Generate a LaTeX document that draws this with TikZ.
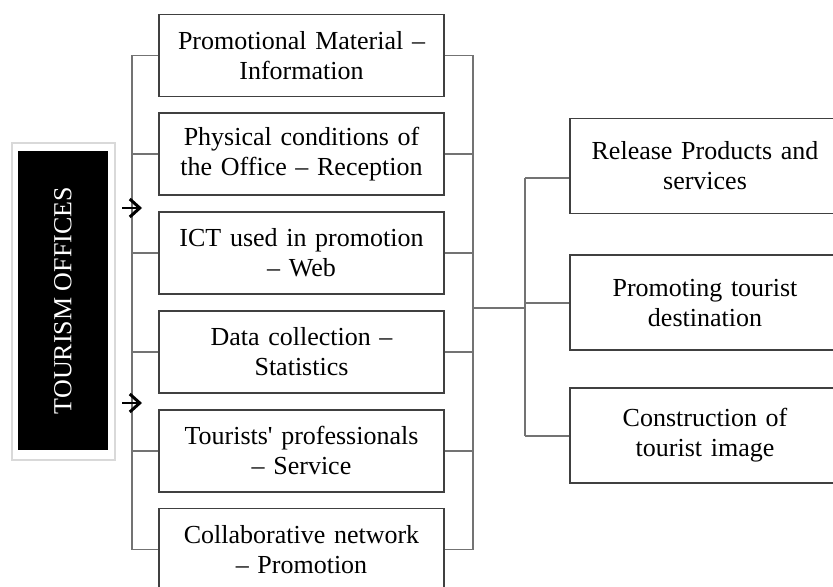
\documentclass[tikz,border=0pt]{standalone}
\usepackage{fontspec}
\setmainfont{Liberation Serif}
\usetikzlibrary{positioning,arrows.meta}

\begin{document}
\begin{tikzpicture}[
    x=0.5pt, y=-0.5pt,
    node distance=7.5pt,
    block/.style={rectangle, draw=black!75, line width=0.9pt, text width=135pt, align=center, minimum width=142.5pt, minimum height=41pt, inner sep=1pt, font=\fontsize{13}{15}\selectfont},
    outcome/.style={block, text width=125pt, minimum width=135pt, minimum height=47.5pt},
    link/.style={draw=black!55, line width=0.9pt},
    arrow/.style={-{Straight Barb[length=5pt,width=9pt,line width=1.5pt]}, line width=1.3pt}
]
\useasboundingbox (0,0) rectangle (833,587);

% Tourism offices
\node[draw=black!15, line width=1.4pt, minimum width=51.5pt, minimum height=158.5pt] (frame) at (63.5,301.5) {};
\node[fill=black, text=white, rotate=90, minimum width=149.5pt, minimum height=45pt, font=\fontsize{13}{15}\selectfont] (offices) at (63,300.5) {TOURISM OFFICES};

% Fields
\node[block] (material) at (301.5,55.5) {Promotional Material –\\Information};
\node[block, below=of material] (reception) {Physical conditions of\\the Office – Reception};
\node[block, below=of reception] (ict) {ICT used in promotion\\– Web};
\node[block, below=of ict] (statistics) {Data collection –\\Statistics};
\node[block, below=of statistics] (service) {Tourists\textquotesingle{} professionals\\– Service};
\node[block, below=of service] (network) {Collaborative network\\– Promotion};

% Outcomes
\node[outcome] (products) at (705,166) {Release Products and\\services\\[6pt]};
\node[outcome, below=20pt of products] (destination) {Promoting tourist\\destination};
\node[outcome, below=18pt of destination] (image) {Construction of\\tourist image};

% Buses
\coordinate (lbus) at (132,0);
\coordinate (rbus) at (473,0);
\coordinate (hub) at (525,308);
\coordinate (feed1) at (122,208);
\coordinate (tip1) at (142,208);
\coordinate (feed2) at (122,403);
\coordinate (tip2) at (142,403);

\draw[link] (material.west) -- (material.west -| lbus) -- (network.west -| lbus) -- (network.west);
\draw[link] (material.east) -- (material.east -| rbus) -- (network.east -| rbus) -- (network.east);
\foreach \n in {reception,ict,statistics,service} {
  \draw[link] (\n.west) -- (\n.west -| lbus);
  \draw[link] (\n.east) -- (\n.east -| rbus);
}
\draw[link] (hub -| rbus) -- (hub);
\draw[link] ([yshift=-6pt]products.west -| hub) -- (image.west -| hub);
\draw[link] ([yshift=-6pt]products.west -| hub) -- ([yshift=-6pt]products.west);
\foreach \n in {destination,image}
  \draw[link] (\n.west -| hub) -- (\n.west);

% Arrows
\draw[arrow] (feed1) -- (tip1);
\draw[arrow] (feed2) -- (tip2);

\end{tikzpicture}
\end{document}
